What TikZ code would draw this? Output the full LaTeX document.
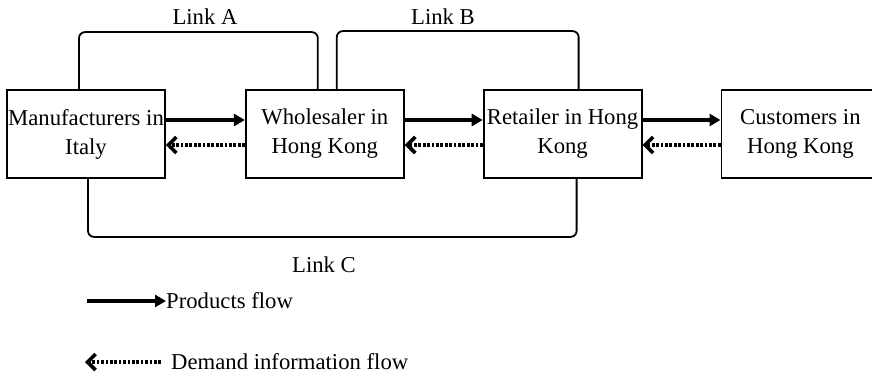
\documentclass[tikz,border=0pt]{standalone}
\usepackage{fontspec}
\setmainfont{Liberation Serif}
\usepackage{tikz}
\usetikzlibrary{positioning, arrows.meta}
\tikzset{box/.style={draw, line width=1.8pt, rectangle, align=center, minimum width=158pt, minimum height=88pt, inner sep=0pt},
  prod/.style={line width=3.8pt, -{Triangle[length=11pt,width=12pt]}},
  dem/.style={line width=3.4pt, dash pattern=on 2.7pt off 1.7pt, -{Straight Barb[length=8pt,width=16pt,line width=3.6pt]}},
  link/.style={line width=1.8pt, rounded corners=6pt}}

\begin{document}
\begin{tikzpicture}[font=\fontsize{22.7}{29}\selectfont, node distance=79pt]
\useasboundingbox (0,0) rectangle (872pt,378pt);
\node[box] (Man) at (86pt,244pt) {Manufacturers in\\Italy};
\node[box] (Whs) [right=of Man] {Wholesaler in\\Hong Kong};
\node[box] (Ret) [right=78pt of Whs] {Retailer in Hong\\Kong};
\node[box] (Cus) [right=78pt of Ret] {Customers in\\Hong Kong};
%
\draw[prod] ([yshift=14pt]Man.east) -- ([yshift=14pt]Whs.west);
\draw[dem] ([yshift=-11pt]Whs.west) -- ([yshift=-11pt]Man.east);
\draw[prod] ([yshift=14pt]Whs.east) -- ([yshift=14pt]Ret.west);
\draw[dem] ([yshift=-11pt]Ret.west) -- ([yshift=-11pt]Whs.east);
\draw[prod] ([yshift=14pt]Ret.east) -- ([yshift=14pt]Cus.west);
\draw[dem] ([yshift=-11pt]Cus.west) -- ([yshift=-11pt]Ret.east);
%
\draw[link] ([xshift=-7pt]Man.north) -- ++(0,57pt) -| ([xshift=-7pt]Whs.north);
\draw[link] ([xshift=12pt]Whs.north) -- ++(0,58pt) -| ([xshift=16pt]Ret.north);
\draw[link] ([xshift=2pt]Man.south) -- ++(0,-58pt) -| ([xshift=14pt]Ret.south);
\node (LA) at (205pt,361pt) {Link A};
\node (LB) at (443pt,361pt) {Link B};
\node (LC) at (324pt,113pt) {Link C};
%
\coordinate (p0) at (87pt,77pt);
\node (PF) [anchor=base west, inner sep=0pt] at (166pt,70pt) {Products flow};
\draw[prod] (p0) -- (p0 -| PF.west);
\coordinate (d0) at (161pt,16pt);
\node (DF) [anchor=base west, inner sep=0pt] at (171pt,9pt) {Demand information flow};
\draw[dem] (d0) -- (85pt,16pt);
\end{tikzpicture}
\end{document}
